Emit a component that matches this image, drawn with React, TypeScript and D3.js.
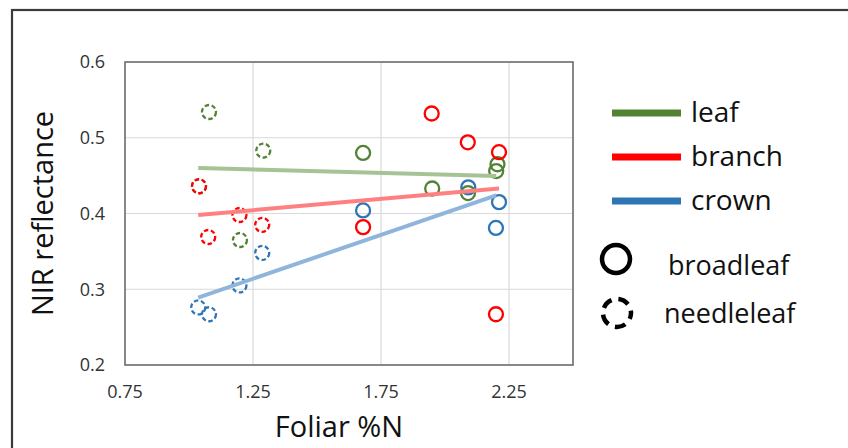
import React from "react";
import * as d3 from "d3";

const tissues = ["leaf", "branch", "crown"];
const tissueColors = ["#548235", "#FF0000", "#2E75B6"];
const trendColors = ["#A5C395", "#FF8080", "#8FB5DC"];
const leafTypes = ["broadleaf", "needleleaf"];

// foliar %N and NIR reflectance, per tissue and leaf type
const leafBroadN = [1.68, 1.95, 2.09, 2.205, 2.2];
const leafBroadR = [0.48, 0.433, 0.427, 0.465, 0.456];
const leafNeedleN = [1.078, 1.29, 1.039, 1.199];
const leafNeedleR = [0.534, 0.483, 0.436, 0.365];

const branchBroadN = [1.68, 1.948, 2.089, 2.211, 2.199];
const branchBroadR = [0.382, 0.532, 0.494, 0.481, 0.267];
const branchNeedleN = [1.039, 1.197, 1.286, 1.075];
const branchNeedleR = [0.436, 0.398, 0.385, 0.369];

const crownBroadN = [1.68, 2.091, 2.211, 2.199];
const crownBroadR = [0.404, 0.4345, 0.415, 0.381];
const crownNeedleN = [1.286, 1.197, 1.036, 1.078];
const crownNeedleR = [0.348, 0.305, 0.276, 0.267];

// trend line end points [x0, y0, x1, y1]
const trendLeaf = [1.036, 0.46, 2.2, 0.4495];
const trendBranch = [1.036, 0.398, 2.211, 0.433];
const trendCrown = [1.036, 0.289, 2.2, 0.424];

const xTicks = [0.75, 1.25, 1.75, 2.25];
const yTicks = [0.2, 0.3, 0.4, 0.5, 0.6];

const W = 848;
const H = 448;
const plot = { left: 125, right: 573, top: 62, bottom: 365 };
const FONT = "'Open Sans', 'DejaVu Sans', sans-serif";

export default function App() {
  const x = d3.scaleLinear().domain([0.75, 2.5]).range([plot.left, plot.right]);
  const y = d3.scaleLinear().domain([0.2, 0.6]).range([plot.bottom, plot.top]);

  const series = [
    { t: 0, broad: [leafBroadN, leafBroadR], needle: [leafNeedleN, leafNeedleR], trend: trendLeaf },
    { t: 1, broad: [branchBroadN, branchBroadR], needle: [branchNeedleN, branchNeedleR], trend: trendBranch },
    { t: 2, broad: [crownBroadN, crownBroadR], needle: [crownNeedleN, crownNeedleR], trend: trendCrown },
  ];

  const line = d3.line<[number, number]>().x((d) => x(d[0])).y((d) => y(d[1]));

  const legendLineY = [113, 157, 201];

  return (
    <svg
      width={W}
      height={H}
      style={{ position: "absolute", left: 0, top: 0, background: "#fff" }}
      fontFamily={FONT}
    >
      <rect x={0} y={0} width={W} height={H} fill="#fff" />
      {/* outer border */}
      <rect x={12} y={10} width={W + 20} height={H + 20} fill="none" stroke="#3a3a3a" strokeWidth={2.2} />

      {/* gridlines */}
      {yTicks.slice(1, -1).map((v) => (
        <line key={"gy" + v} x1={plot.left} x2={plot.right} y1={y(v)} y2={y(v)} stroke="#d9d9d9" strokeWidth={1.2} />
      ))}
      {xTicks.slice(1).map((v) => (
        <line key={"gx" + v} x1={x(v)} x2={x(v)} y1={plot.top} y2={plot.bottom} stroke="#d9d9d9" strokeWidth={1.2} />
      ))}

      {/* plot frame */}
      <rect
        x={plot.left}
        y={plot.top}
        width={plot.right - plot.left}
        height={plot.bottom - plot.top}
        fill="none"
        stroke="#6b6b6b"
        strokeWidth={1.6}
      />

      {/* tick labels */}
      {yTicks.map((v) => (
        <text key={"ty" + v} x={105} y={y(v)} dy="0.35em" textAnchor="end" fontSize={18} fill="#333">
          {d3.format(".1f")(v)}
        </text>
      ))}
      {xTicks.map((v) => (
        <text key={"tx" + v} x={x(v)} y={392} dy="0.35em" textAnchor="middle" fontSize={18} fill="#333">
          {d3.format(".2f")(v)}
        </text>
      ))}

      {/* axis titles */}
      <text
        transform={`translate(53, ${(plot.top + plot.bottom) / 2}) rotate(-90)`}
        textAnchor="middle"
        fontSize={29}
        fill="#111"
      >
        NIR reflectance
      </text>
      <text x={339} y={437} textAnchor="middle" fontSize={29} fill="#111">
        Foliar %N
      </text>

      {/* markers */}
      {series.map((s) => (
        <g key={"m" + s.t}>
          {s.broad[0].map((n, i) => (
            <circle
              key={"b" + i}
              cx={x(n)}
              cy={y(s.broad[1][i])}
              r={7}
              fill="none"
              stroke={tissueColors[s.t]}
              strokeWidth={2.3}
            />
          ))}
          {s.needle[0].map((n, i) => (
            <circle
              key={"n" + i}
              cx={x(n)}
              cy={y(s.needle[1][i])}
              r={7}
              fill="none"
              stroke={tissueColors[s.t]}
              strokeWidth={2.3}
              strokeDasharray="4.5,2.6"
            />
          ))}
        </g>
      ))}

      {/* trend lines */}
      {series.map((s) => (
        <path
          key={"t" + s.t}
          d={line([
            [s.trend[0], s.trend[1]],
            [s.trend[2], s.trend[3]],
          ]) as string}
          fill="none"
          stroke={trendColors[s.t]}
          strokeWidth={4}
          strokeLinecap="butt"
        />
      ))}

      {/* legend */}
      {tissues.map((t, i) => (
        <g key={"l" + t}>
          <line x1={612} x2={681} y1={legendLineY[i]} y2={legendLineY[i]} stroke={tissueColors[i]} strokeWidth={7} />
          <text x={691} y={legendLineY[i]} dy="0.32em" fontSize={28} fill="#111">
            {t}
          </text>
        </g>
      ))}
      <circle cx={616} cy={259} r={14} fill="none" stroke="#000" strokeWidth={4.5} />
      <text x={668} y={275} fontSize={27} fill="#111">
        {leafTypes[0]}
      </text>
      <circle cx={617} cy={313} r={14} fill="none" stroke="#000" strokeWidth={4.5} strokeDasharray="11,7" strokeDashoffset={5} />
      <text x={664} y={323} fontSize={27} fill="#111">
        {leafTypes[1]}
      </text>
    </svg>
  );
}
